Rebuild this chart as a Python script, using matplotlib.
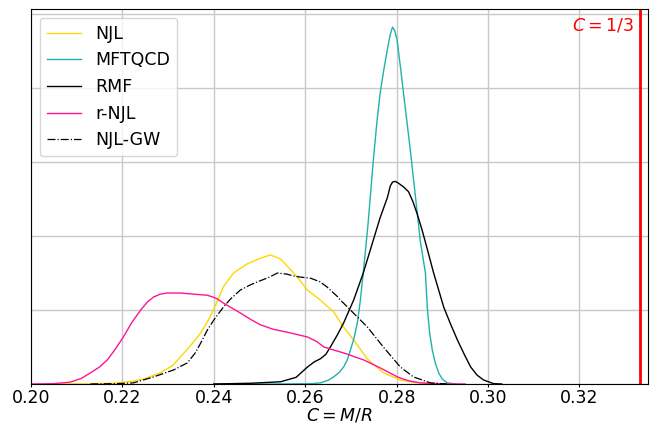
import matplotlib.pyplot as plt
import numpy as np

# compactness values (x) and density (y)
njl_x = [0.205, 0.213, 0.218, 0.222, 0.2250, 0.2283, 0.2310, 0.2327, 0.2350, 0.2371, 0.2386,
         0.2400, 0.2421, 0.2443, 0.2473, 0.2502, 0.2524, 0.2546, 0.2575, 0.2605, 0.2633,
         0.2662, 0.2684, 0.2706, 0.2736, 0.2771, 0.2808, 0.2835, 0.2859, 0.290]
njl_y = [0.0, 0.05, 0.2, 0.7, 1.5, 3.0, 5.0, 7.3, 10.5, 13.8, 16.8,
         20.2, 26.3, 30.0, 32.5, 34.0, 34.9, 33.8, 30.0, 25.4, 22.7,
         19.5, 15.4, 11.9, 6.8, 3.0, 1.1, 0.5, 0.2, 0.0]

mft_x = [0.240, 0.255, 0.2615, 0.2633, 0.2650, 0.2662, 0.2675, 0.2684, 0.2692, 0.2699,
         0.2707, 0.2714, 0.2720, 0.2727, 0.2738, 0.2749, 0.2757, 0.2764, 0.2772, 0.2779,
         0.2786, 0.2791, 0.2796, 0.2801, 0.2808, 0.2815, 0.2830, 0.2852, 0.2863, 0.2867,
         0.2872, 0.2878, 0.2885, 0.2892, 0.2900, 0.2911, 0.293]
mft_y = [0.0, 0.0, 0.1, 0.3, 1.0, 1.9, 3.2, 4.6, 6.5, 9.2,
         12.5, 16.5, 22.0, 30.0, 44.0, 60.5, 71.0, 78.7, 85.0, 90.0,
         94.5, 96.5, 95.5, 93.0, 86.0, 78.7, 63.2, 38.5, 30.0, 20.8,
         14.0, 9.2, 5.5, 3.0, 1.3, 0.3, 0.0]

rmf_x = [0.240, 0.248, 0.2546, 0.2580, 0.2605, 0.2620, 0.2633, 0.2645, 0.2655, 0.2670,
         0.2684, 0.2706, 0.2727, 0.2743, 0.2764, 0.2780, 0.2786, 0.2791, 0.2797, 0.2804,
         0.2815, 0.2826, 0.2835, 0.2845, 0.2856, 0.2867, 0.2881, 0.2903, 0.2918, 0.2933,
         0.2948, 0.2962, 0.2976, 0.2990, 0.3012, 0.303]
rmf_y = [0.0, 0.2, 0.6, 1.8, 4.6, 6.0, 6.8, 8.0, 10.0, 13.2,
         16.5, 22.7, 30.0, 36.5, 45.0, 50.5, 53.5, 54.6, 54.8, 54.3,
         53.3, 52.0, 49.5, 46.0, 41.5, 36.5, 30.0, 20.8, 16.2, 11.9,
         8.0, 4.6, 2.4, 1.1, 0.1, 0.0]

rnjl_x = [0.200, 0.205, 0.2086, 0.2110, 0.2130, 0.2150, 0.2167, 0.2185, 0.2202, 0.2220,
          0.2240, 0.2255, 0.2268, 0.2283, 0.2298, 0.2327, 0.2355, 0.2386, 0.2405, 0.2421,
          0.2440, 0.2458, 0.2480, 0.2502, 0.2530, 0.2568, 0.2605, 0.2625, 0.2641, 0.2662,
          0.2684, 0.2728, 0.2765, 0.2785, 0.2802, 0.2825, 0.2852, 0.290, 0.295]
rnjl_y = [0.0, 0.1, 0.5, 1.5, 3.0, 4.6, 6.5, 9.5, 12.7, 16.5,
          20.0, 22.2, 23.5, 24.3, 24.6, 24.6, 24.3, 24.0, 23.2, 21.9,
          20.5, 19.2, 17.5, 16.0, 14.8, 13.8, 12.7, 11.5, 10.0, 9.2,
          8.4, 6.5, 4.3, 3.0, 1.9, 0.9, 0.3, 0.05, 0.0]

gw_x = [0.213, 0.2190, 0.2224, 0.2268, 0.2312, 0.2342, 0.2360, 0.2371, 0.2386, 0.2400,
        0.2421, 0.2436, 0.2458, 0.2480, 0.2495, 0.2520, 0.2539, 0.2560, 0.2575, 0.2590,
        0.2612, 0.2633, 0.2648, 0.2670, 0.2677, 0.2699, 0.2736, 0.2771, 0.2808, 0.2837,
        0.2874, 0.291]
gw_y = [0.0, 0.1, 0.3, 1.9, 3.8, 5.7, 8.5, 11.0, 14.6, 17.3,
        20.8, 22.9, 25.4, 26.8, 27.6, 28.8, 30.0, 29.7, 29.2, 28.9,
        28.6, 27.6, 26.2, 23.7, 22.7, 20.0, 15.4, 10.0, 4.6, 1.9,
        0.3, 0.0]

c_limit = 1 / 3

plt.rcParams['font.size'] = 12.5
fig = plt.figure(figsize=(6.52, 4.26), dpi=100)
ax = fig.add_axes([0.0475, 0.0986, 0.9464, 0.8803])

ax.plot(njl_x, njl_y, color='#FFD700', lw=1, label='NJL')
ax.plot(mft_x, mft_y, color='#20B2AA', lw=1, label='MFTQCD')
ax.plot(rmf_x, rmf_y, color='black', lw=1, label='RMF')
ax.plot(rnjl_x, rnjl_y, color='#FF1493', lw=1, label='r-NJL')
ax.plot(gw_x, gw_y, color='black', lw=0.9, ls='-.', label='NJL-GW')

ax.axvline(c_limit, color='red', lw=2)
ax.text(c_limit - 0.0015, 97, r'$C = 1/3$', color='red', ha='right', va='center', fontsize=12.5)

ax.set_xlim(0.2, 0.335)
ax.set_ylim(0, 101.4)
ax.set_xticks(np.arange(0.20, 0.33, 0.02))
ax.set_yticks(np.arange(0, 101, 20))
ax.set_yticklabels([])
ax.tick_params(axis='y', length=0)
ax.tick_params(axis='x', length=2, pad=1.5)
ax.grid(True, color='#c8c8c8', lw=1)
ax.set_xlabel(r'$C = M/R$', labelpad=0)
ax.legend(loc='upper left', fontsize=12.5)

fig.savefig('out.png', dpi=100)
